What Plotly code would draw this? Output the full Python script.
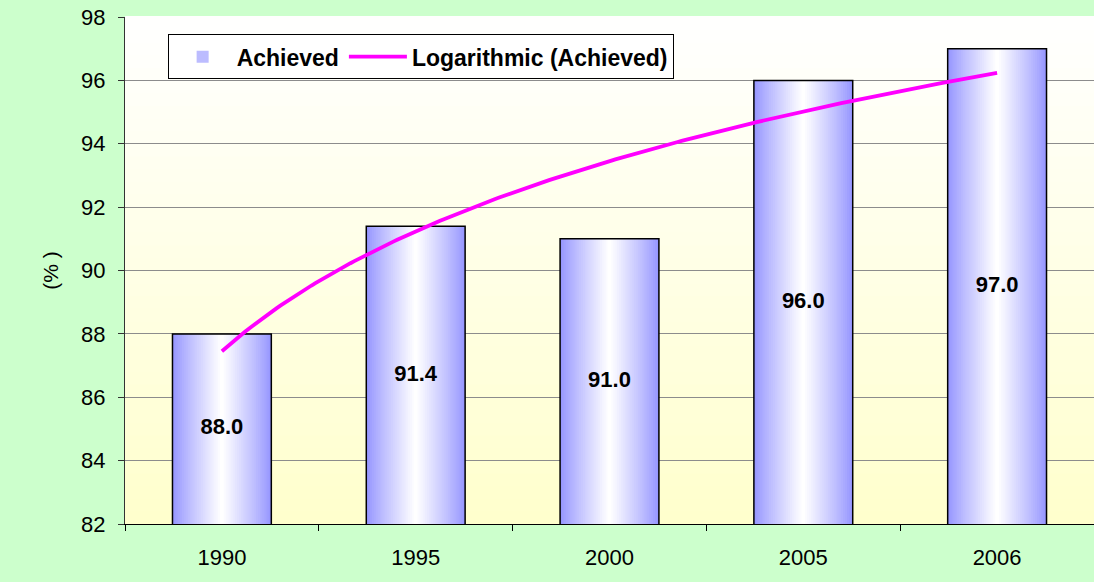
import numpy as np
import plotly.graph_objects as go

years = ["1990", "1995", "2000", "2005", "2006"]
achieved = [88.0, 91.4, 91.0, 96.0, 97.0]
y_ticks = [82, 84, 86, 88, 90, 92, 94, 96, 98]

xpos = np.arange(1, len(years) + 1)
FONT = "Liberation Sans, Arial, sans-serif"

fig = go.Figure()

# gradient bars (overlaid bars of decreasing width)
edge = np.array([150, 150, 255])
white = np.array([255, 255, 255])
N = 26
full_w = 0.51
for k in range(N):
    t = k / (N - 1)
    c = edge + (white - edge) * (t ** 0.9)
    col = "rgb(%d,%d,%d)" % tuple(c.round().astype(int))
    w = full_w * (1 - k / N)
    fig.add_trace(go.Bar(
        x=xpos, y=achieved, width=w,
        marker=dict(color=col, line=dict(width=0)),
        showlegend=(k == 8), name="Achieved",
        hoverinfo="skip" if k else "y",
    ))
# outline
fig.add_trace(go.Bar(
    x=xpos, y=achieved, width=full_w,
    marker=dict(color="rgba(0,0,0,0)", line=dict(color="black", width=1.5)),
    showlegend=False, hoverinfo="skip",
))

# logarithmic trendline fitted to the data
lx = np.log(xpos)
a, b = np.polyfit(lx, achieved, 1)
xs = np.linspace(1, len(years), 200)
fig.add_trace(go.Scatter(
    x=xs, y=a * np.log(xs) + b, mode="lines",
    line=dict(color="#FF00FF", width=3.8),
    name="Logarithmic (Achieved)", hoverinfo="skip",
))

# data labels centred in bars
fig.add_trace(go.Scatter(
    x=xpos, y=[(82 + v) / 2 for v in achieved], mode="text",
    text=["%.1f" % v for v in achieved],
    textfont=dict(family=FONT, size=22, color="black", weight="bold"),
    showlegend=False, hoverinfo="skip",
))

# plot-area vertical gradient (white top -> light yellow bottom)
shapes = []
nb = 40
for i in range(nb):
    t = (i + 0.5) / nb  # 0 bottom -> 1 top
    bcol = int(round(204 + (255 - 204) * t))
    shapes.append(dict(
        type="rect", xref="x domain", yref="y domain",
        x0=0, x1=1, y0=i / nb, y1=(i + 1) / nb + 0.002,
        fillcolor="rgb(255,255,%d)" % bcol, line=dict(width=0), layer="below",
    ))

fig.update_layout(
    width=1094, height=582,
    paper_bgcolor="#CCFFCC",
    plot_bgcolor="#FFFFE6",
    barmode="overlay",
    margin=dict(l=125, r=0, t=17, b=58, autoexpand=False),
    shapes=shapes,
    font=dict(family=FONT, size=21, color="black"),
    legend=dict(
        orientation="h", x=0.044, y=0.966, xanchor="left", yanchor="top",
        bgcolor="white", bordercolor="black", borderwidth=1,
        font=dict(family=FONT, size=23, color="black", weight="bold"),
        itemwidth=58, tracegroupgap=0,
    ),
    xaxis=dict(
        range=[0.5, len(years) + 0.5],
        tickmode="array", tickvals=list(xpos), ticktext=years,
        ticks="", showgrid=False, zeroline=False,
        showline=True, linecolor="black", linewidth=1,
        tickfont=dict(family=FONT, size=22),
        ticklabelstandoff=14, automargin=False,
        minor=dict(tickmode="array",
                   tickvals=list(np.arange(0.5, len(years) + 1, 1.0)),
                   ticks="outside", ticklen=6, tickcolor="black", showgrid=False),
    ),
    yaxis=dict(
        range=[82, 98], tickmode="array", tickvals=y_ticks,
        ticks="outside", ticklen=6, tickcolor="#333333",
        showgrid=True, gridcolor="#8C8C8C", gridwidth=1,
        showline=True, linecolor="#333333", linewidth=1, zeroline=False,
        tickfont=dict(family=FONT, size=22),
        ticklabelstandoff=8, automargin=False,
        title=dict(text="(% )", font=dict(family=FONT, size=21), standoff=16),
    ),
)

fig.write_html(
    "out.html",
    config={"displayModeBar": False},
    post_script="document.body.style.margin='0';document.body.style.overflow='hidden';",
)
